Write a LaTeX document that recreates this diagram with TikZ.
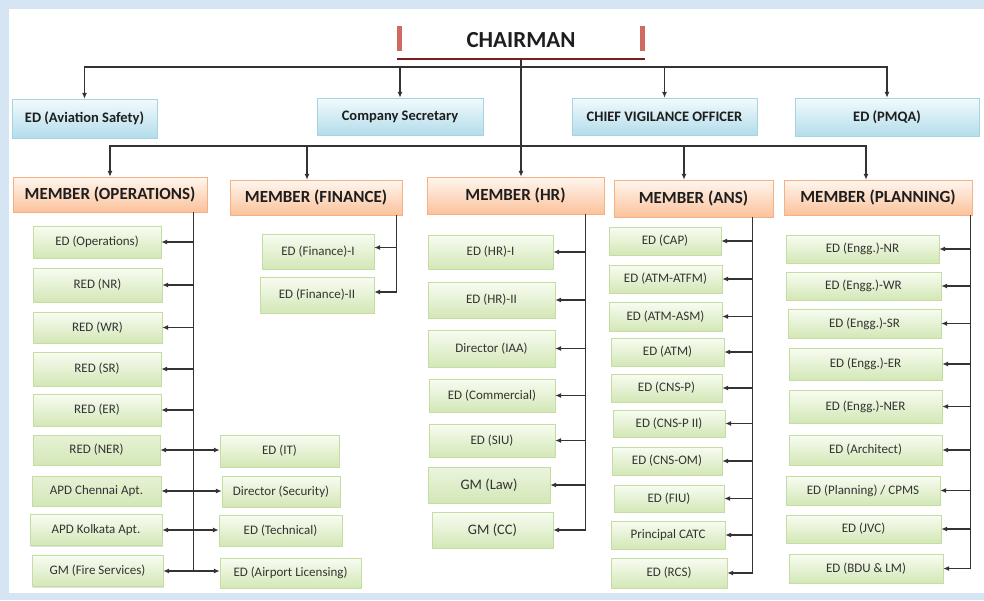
\documentclass[tikz,border=0pt]{standalone}
\usepackage{fontspec}
\setmainfont{Carlito}
\usepackage{xcolor}
\usepackage{tikz}
\usetikzlibrary{positioning,arrows.meta,shadows}

\definecolor{framebg}{HTML}{D5E5F4}
\definecolor{bluetop}{HTML}{F2FAFC}
\definecolor{bluebot}{HTML}{B3DDEB}
\definecolor{blueedge}{HTML}{A6D4E5}
\definecolor{orgtop}{HTML}{FFF6EF}
\definecolor{orgbot}{HTML}{FBC29B}
\definecolor{orgedge}{HTML}{F5B084}
\definecolor{grntop}{HTML}{F8FCF2}
\definecolor{grnbot}{HTML}{D3E7B6}
\definecolor{grnedge}{HTML}{C4DDA0}
\definecolor{chairred}{HTML}{C0392B}
\definecolor{chairline}{HTML}{7A1F1F}
\definecolor{txtdark}{HTML}{1E1E1E}
\definecolor{txtgray}{HTML}{333333}

\begin{document}
\begin{tikzpicture}[x=1pt, y=-1pt,
  basebox/.style={rectangle, inner sep=0pt, align=center,
    drop shadow={shadow xshift=0.8pt, shadow yshift=-1.2pt, opacity=.25}},
  topbox/.style={basebox, draw=blueedge, top color=bluetop, bottom color=bluebot,
    text=txtdark, font=\bfseries\fontsize{14.5}{16}\selectfont},
  memberbox/.style={basebox, draw=orgedge, top color=orgtop, bottom color=orgbot,
    text=txtdark, font=\bfseries\fontsize{17}{19}\selectfont},
  edbox/.style={basebox, draw=grnedge, top color=grntop, bottom color=grnbot,
    text=txtgray, font=\fontsize{13}{15}\selectfont},
  gmbox/.style={edbox, top color=grnbot!45, font=\fontsize{14.5}{16}\selectfont},
  link/.style={line width=1.3pt, draw=black!80},
  arr/.style={link, -{Latex[length=6pt,width=5pt]}},
  arrb/.style={link, {Latex[length=6pt,width=5pt]}-{Latex[length=6pt,width=5pt]}}]

\fill[framebg] (0,0) rectangle (984,600);
\fill[white] (9,9) rectangle (984,593);
\useasboundingbox (0,0) rectangle (984,600);

\node[rectangle, fill=white, inner sep=0pt, minimum width=248pt, minimum height=38pt,
  text=txtdark, font=\bfseries\fontsize{23}{25}\selectfont] (chair) at (521,40) {CHAIRMAN};
\fill[chairred, opacity=.75] ([yshift=-5pt]chair.north west) rectangle ([xshift=5pt,yshift=8pt]chair.south west);
\fill[chairred, opacity=.75] ([xshift=-5pt,yshift=-5pt]chair.north east) rectangle ([yshift=8pt]chair.south east);
\draw[chairline, line width=2pt] (chair.south west) -- (chair.south east);

\node[topbox, minimum width=145pt, minimum height=39pt] (avs) at (84.5,118.5) {ED (Aviation Safety)};
\node[topbox, minimum width=166pt, minimum height=37pt] (csec) at (400,116.5) {Company Secretary};
\node[topbox, minimum width=185pt, minimum height=37pt] (cvo) at (664.5,116.5) {CHIEF VIGILANCE OFFICER};
\node[topbox, minimum width=184pt, minimum height=38pt] (pmqa) at (887,117) {ED (PMQA)};

\node[memberbox, minimum width=194pt, minimum height=35pt] (mops) at (110,194.5) {MEMBER (OPERATIONS)};
\node[memberbox, minimum width=172pt, minimum height=35pt] (mfin) at (316,197.5) {MEMBER (FINANCE)};
\node[memberbox, minimum width=177pt, minimum height=37pt] (mhr) at (515.5,195.5) {MEMBER (HR)};
\node[memberbox, minimum width=159pt, minimum height=37pt] (mans) at (693.5,198.5) {MEMBER (ANS)};
\node[memberbox, minimum width=188pt, minimum height=35pt] (mplan) at (878,197.5) {MEMBER (PLANNING)};

\coordinate (bus1) at (521,67);
\coordinate (bus2) at (521,146);

\draw[arr] (chair.south) -- (chair.south |- mhr.north);
\draw[arr] (bus1) -| (avs.north);
\draw[arr] (bus1) -| (csec.north);
\draw[arr] (bus1) -| (cvo.north);
\draw[arr] (bus1) -| (pmqa.north);
\draw[arr] (bus2) -| (mops.north);
\draw[arr] (bus2) -| ([xshift=-9pt]mfin.north);
\draw[arr] (bus2) -| ([xshift=-9.5pt]mans.north);
\draw[arr] (bus2) -| ([xshift=-12pt]mplan.north);

\node[edbox, minimum width=128pt, minimum height=32pt] (edops) at (97,242) {ED (Operations)};
\node[edbox, minimum width=129pt, minimum height=34pt] (rnr) at (97.5,285) {RED (NR)};
\node[edbox, minimum width=129pt, minimum height=31pt] (rwr) at (97.5,327.5) {RED (WR)};
\node[edbox, minimum width=128pt, minimum height=34pt] (rsr) at (97,369) {RED (SR)};
\node[edbox, minimum width=128pt, minimum height=32pt] (rer) at (97,410) {RED (ER)};
\node[edbox, top color=grnbot!55, minimum width=127pt, minimum height=30pt] (rner) at (96.5,450) {RED (NER)};
\node[edbox, top color=grnbot!55, minimum width=129pt, minimum height=30pt] (apdc) at (96.5,491) {APD Chennai Apt.};
\node[edbox, minimum width=132pt, minimum height=31pt] (apdk) at (96,530) {APD Kolkata Apt.};
\node[edbox, minimum width=131pt, minimum height=31pt] (gmfs) at (97.5,571) {GM (Fire Services)};

\node[edbox, minimum width=119pt, minimum height=32pt] (edit) at (279.5,451) {ED (IT)};
\node[edbox, minimum width=118pt, minimum height=31pt] (dsec) at (281,491.5) {Director (Security)};
\node[edbox, minimum width=123pt, minimum height=31pt] (edtech) at (280.5,530.5) {ED (Technical)};
\node[edbox, minimum width=141pt, minimum height=30pt] (edal) at (290.5,573) {ED (Airport Licensing)};

\coordinate (opsbus) at ([xshift=-14pt]mops.south east);
\draw[arr] (opsbus) |- (edops.east);
\draw[arr] (opsbus) |- (rnr.east);
\draw[arr] (opsbus) |- (rwr.east);
\draw[arr] (opsbus) |- (rsr.east);
\draw[arr] (opsbus) |- (rer.east);
\draw[link] (opsbus) -- (opsbus |- gmfs.east);
\draw[arrb] (rner.east) -- (rner.east -| edit.west);
\draw[arrb] (apdc.east) -- (apdc.east -| dsec.west);
\draw[arrb] (apdk.east) -- (apdk.east -| edtech.west);
\draw[arrb] (gmfs.east) -- (gmfs.east -| edal.west);

\node[edbox, minimum width=112pt, minimum height=35pt] (edf1) at (318,251.5) {ED (Finance)-I};
\node[edbox, minimum width=114pt, minimum height=36pt] (edf2) at (317,295) {ED (Finance)-II};

\coordinate (finbus) at ([xshift=-6pt]mfin.south east);
\draw[arr] (finbus) |- ([yshift=4pt]edf1.east);
\draw[arr] (finbus) |- ([yshift=3pt]edf2.east);

\node[edbox, minimum width=125pt, minimum height=34pt] (hr1) at (490.5,252) {ED (HR)-I};
\node[edbox, minimum width=127pt, minimum height=36pt] (hr2) at (491.5,300) {ED (HR)-II};
\node[edbox, minimum width=127pt, minimum height=37pt] (diaa) at (491.5,348.5) {Director (IAA)};
\node[edbox, minimum width=126pt, minimum height=33pt] (edcom) at (492,395.5) {ED (Commercial)};
\node[edbox, minimum width=126pt, minimum height=33pt] (edsiu) at (492,440.5) {ED (SIU)};
\node[gmbox, minimum width=122pt, minimum height=36pt] (gmlaw) at (489,485) {GM (Law)};
\node[edbox, font=\fontsize{14.5}{16}\selectfont, minimum width=121pt, minimum height=36pt] (gmcc) at (492.5,530) {GM (CC)};

\coordinate (hrbus) at ([xshift=-19pt]mhr.south east);
\draw[arr] (hrbus) |- (hr1.east);
\draw[arr] (hrbus) |- (hr2.east);
\draw[arr] (hrbus) |- (diaa.east);
\draw[arr] (hrbus) |- (edcom.east);
\draw[arr] (hrbus) |- (edsiu.east);
\draw[arr] (hrbus) |- (gmlaw.east);
\draw[arr] (hrbus) |- (gmcc.east);

\node[edbox, minimum width=112pt, minimum height=28pt] (cap) at (665,241) {ED (CAP)};
\node[edbox, minimum width=113pt, minimum height=28pt] (atfm) at (665.5,279) {ED (ATM-ATFM)};
\node[edbox, minimum width=113pt, minimum height=29pt] (asm) at (665.5,316.5) {ED (ATM-ASM)};
\node[edbox, minimum width=113pt, minimum height=28pt] (atm) at (667.5,352) {ED (ATM)};
\node[edbox, minimum width=111pt, minimum height=28pt] (cnsp) at (666.5,388) {ED (CNS-P)};
\node[edbox, minimum width=112pt, minimum height=27pt] (cnsp2) at (669,423.5) {ED (CNS-P II)};
\node[edbox, minimum width=110pt, minimum height=28pt] (cnsom) at (667,461) {ED (CNS-OM)};
\node[edbox, minimum width=110pt, minimum height=27pt] (fiu) at (669,498.5) {ED (FIU)};
\node[edbox, minimum width=114pt, minimum height=28pt] (catc) at (668,535) {Principal CATC};
\node[edbox, minimum width=116pt, minimum height=30pt] (rcs) at (669,573) {ED (RCS)};

\coordinate (ansbus) at ([xshift=-21pt]mans.south east);
\draw[arr] (ansbus) |- (cap.east);
\draw[arr] (ansbus) |- (atfm.east);
\draw[arr] (ansbus) |- (asm.east);
\draw[arr] (ansbus) |- (atm.east);
\draw[arr] (ansbus) |- (cnsp.east);
\draw[arr] (ansbus) |- (cnsp2.east);
\draw[arr] (ansbus) |- (cnsom.east);
\draw[arr] (ansbus) |- (fiu.east);
\draw[arr] (ansbus) |- (catc.east);
\draw[arr] (ansbus) |- (rcs.east);

\node[edbox, minimum width=153pt, minimum height=28pt] (engnr) at (862.5,249) {ED (Engg.)-NR};
\node[edbox, minimum width=155pt, minimum height=28pt] (engwr) at (863.5,286) {ED (Engg.)-WR};
\node[edbox, minimum width=153pt, minimum height=29pt] (engsr) at (864.5,323.5) {ED (Engg.)-SR};
\node[edbox, minimum width=153pt, minimum height=32pt] (enger) at (865.5,364) {ED (Engg.)-ER};
\node[edbox, minimum width=153pt, minimum height=33pt] (engner) at (865.5,406.5) {ED (Engg.)-NER};
\node[edbox, minimum width=153pt, minimum height=30pt] (arch) at (865.5,450) {ED (Architect)};
\node[edbox, minimum width=154pt, minimum height=29pt] (cpms) at (863,490.5) {ED (Planning) / CPMS};
\node[edbox, minimum width=155pt, minimum height=28pt] (jvc) at (863.5,529) {ED (JVC)};
\node[edbox, minimum width=154pt, minimum height=29pt] (bdu) at (866,568.5) {ED (BDU \& LM)};

\coordinate (planbus) at ([xshift=-2pt]mplan.south east);
\draw[arr] (planbus) |- (engnr.east);
\draw[arr] (planbus) |- (engwr.east);
\draw[arr] (planbus) |- (engsr.east);
\draw[arr] (planbus) |- (enger.east);
\draw[arr] (planbus) |- (engner.east);
\draw[arr] (planbus) |- (arch.east);
\draw[arr] (planbus) |- (cpms.east);
\draw[arr] (planbus) |- (jvc.east);
\draw[arr] (planbus) |- (bdu.east);
\end{tikzpicture}
\end{document}
